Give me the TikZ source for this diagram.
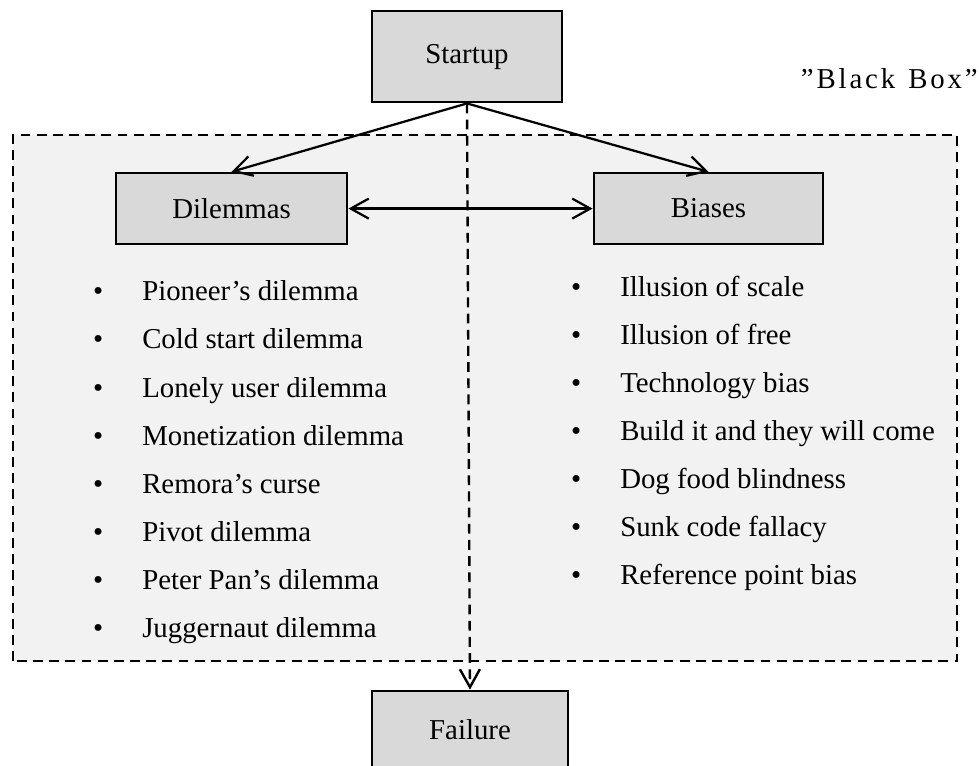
\documentclass[tikz,border=0pt]{standalone}
\usepackage{fontspec}
\setmainfont{Liberation Serif}
\usepackage{tikz}
\usetikzlibrary{arrows.meta}
\definecolor{boxgray}{RGB}{217,217,217}
\definecolor{areagray}{RGB}{242,242,242}
\newcommand{\lsp}{\kern0.1em}
\newcommand{\bul}{\makebox[0pt][c]{\textbullet}\hspace{1.1cm}}

\begin{document}
\begin{tikzpicture}[font=\fontsize{20.5}{24}\selectfont,
    >={Straight Barb[length=4.5mm,width=5mm]},
    stage/.style={draw, line width=1.9pt, fill=boxgray, inner sep=0pt},
    listitem/.style={anchor=base west, inner sep=0pt},
    bbline/.style={line width=1.7pt, dash pattern=on 7pt off 4.5pt}]
        \useasboundingbox (0,0) rectangle (24.475,19.125);

        % black box area
        \draw[bbline, fill=areagray] (0.325,2.6) rectangle (23.925,15.75);
        \node[anchor=base east, inner sep=0pt] (bblabel) at (24.45,16.9) {''\lsp B\lsp l\lsp a\lsp c\lsp k\lsp{} \lsp B\lsp o\lsp x\lsp''};

        \node[stage, minimum width=4.75cm, minimum height=2.275cm] (startup) at (11.675,17.71) {Startup};
        \node[stage, minimum width=5.775cm, minimum height=1.775cm] (dilemmas) at (5.79,13.91) {Dilemmas};
        \node[stage, minimum width=5.725cm, minimum height=1.775cm] (biases) at (17.71,13.91) {Biases};
        \node[stage, minimum width=4.9cm, minimum height=1.95cm] (failure) at (11.75,0.875) {Failure};

        % dilemmas
        \node[listitem] (d1) at (2.45,11.6) {\bul Pioneer’s dilemma};
        \node[listitem] (d2) at (2.45,10.4) {\bul Cold start dilemma};
        \node[listitem] (d3) at (2.45,9.2) {\bul Lonely user dilemma};
        \node[listitem] (d4) at (2.45,8.0) {\bul Monetization dilemma};
        \node[listitem] (d5) at (2.45,6.8) {\bul Remora’s curse};
        \node[listitem] (d6) at (2.45,5.6) {\bul Pivot dilemma};
        \node[listitem] (d7) at (2.45,4.4) {\bul Peter Pan’s dilemma};
        \node[listitem] (d8) at (2.45,3.2) {\bul Juggernaut dilemma};

        % biases
        \node[listitem] (b1) at (14.4,11.72) {\bul Illusion of scale};
        \node[listitem] (b2) at (14.4,10.52) {\bul Illusion of free};
        \node[listitem] (b3) at (14.4,9.32) {\bul Technology bias};
        \node[listitem] (b4) at (14.4,8.12) {\bul Build it and they will come};
        \node[listitem] (b5) at (14.4,6.92) {\bul Dog food blindness};
        \node[listitem] (b6) at (14.4,5.72) {\bul Sunk code fallacy};
        \node[listitem] (b7) at (14.4,4.52) {\bul Reference point bias};

        \draw[->, line width=1.6pt] (startup.south) -- (dilemmas.north);
        \draw[->, line width=1.6pt] (startup.south) -- (biases.north);
        \draw[<->, line width=1.6pt] (dilemmas.east) -- (biases.west);
        \draw[->, bbline] (startup.south) -- (failure.north);
    \end{tikzpicture}
\end{document}
